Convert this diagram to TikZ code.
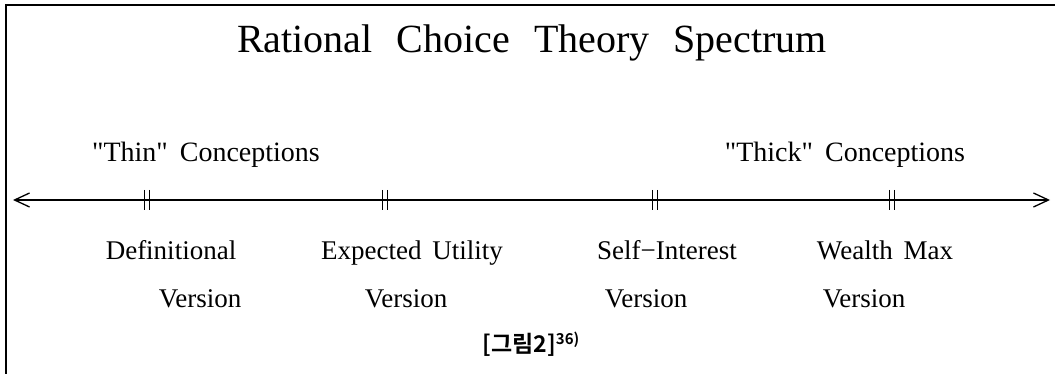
\documentclass[tikz,border=0pt]{standalone}
\usepackage{fontspec}
\setmainfont{Liberation Serif}
\newfontfamily\krfont{Noto Sans CJK KR}[BoldFont={* Bold}]
\usetikzlibrary{arrows.meta}
\tikzset{
  frameline/.style={line width=1.5pt, line cap=rect},
  axisline/.style={line width=1.2pt, {Straight Barb[length=15pt,width=14pt,line width=1.3pt]}-{Straight Barb[length=15pt,width=14pt,line width=1.3pt]}},
  tickbar/.style={line width=1.9pt},
  titletext/.style={font=\fontsize{40}{42}\selectfont, anchor=base, inner sep=0pt},
  headtext/.style={font=\fontsize{28}{30}\selectfont, anchor=base, inner sep=0pt},
  labeltext/.style={font=\fontsize{27}{29}\selectfont, anchor=base, inner sep=0pt},
  captext/.style={font=\krfont\bfseries\fontsize{23}{25}\selectfont, anchor=base, inner sep=0pt},
}
\begin{document}
\begin{tikzpicture}[x=1pt,y=-1pt]
\useasboundingbox (0,0) rectangle (1055,374);
% frame (top and left sides)
\coordinate (fbl) at (6,374);
\coordinate (ftl) at (6,5);
\coordinate (ftr) at (1055,5);
\draw[frameline] (fbl) -- (ftl) -- (ftr);
% title
\node[titletext] (title) at (532,53) {Rational\hspace{24pt}Choice\hspace{24pt}Theory\hspace{24pt}Spectrum};
% headings
\node[headtext] (thin) at (206,162) {\textquotedbl Thin\textquotedbl\hspace{5pt} Conceptions};
\node[headtext] (thick) at (845,162) {\textquotedbl Thick\textquotedbl\hspace{5pt} Conceptions};
% axis
\coordinate (axL) at (13,200);
\coordinate (axR) at (1050,200);
\draw[axisline] (axL) -- (axR);
% ticks
\foreach \n/\x in {t1/147, t2/385, t3/655, t4/892}{
  \coordinate (\n) at (\x,200);
  \draw[tickbar] ([xshift=-2.5pt,yshift=10pt]\n) -- ([xshift=-2.5pt,yshift=-10pt]\n);
  \draw[tickbar] ([xshift=2.5pt,yshift=10pt]\n) -- ([xshift=2.5pt,yshift=-10pt]\n);
}
% labels
\node[labeltext] (def)  at (171,260) {Definitional};
\node[labeltext] (defv) at (200,307) {Version};
\node[labeltext] (exp)  at (412,260) {Expected\hspace{4pt} Utility};
\node[labeltext] (expv) at (406,307) {Version};
\node[labeltext] (self) at (667,260) {Self−Interest};
\node[labeltext] (selfv) at (646,307) {Version};
\node[labeltext] (wm)   at (885,260) {Wealth\hspace{4pt} Max};
\node[labeltext] (wmv)  at (864,307) {Version};
% caption
\node[captext] (cap) at (531,352) {[그림2]\raisebox{8pt}{\fontsize{15}{17}\selectfont 36)}};
\end{tikzpicture}
\end{document}
